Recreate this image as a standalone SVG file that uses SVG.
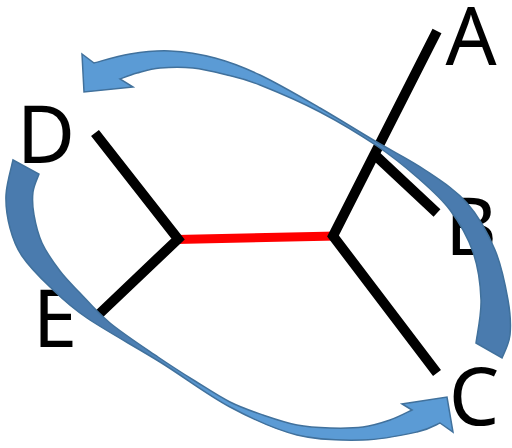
<svg xmlns="http://www.w3.org/2000/svg" width="512" height="448" viewBox="0 0 512 448">
<style>
.lbl{font-family:"Noto Sans","Liberation Sans",sans-serif;font-size:80px;fill:#000;text-anchor:middle}
.edge{fill:none;stroke:#000;stroke-width:10;stroke-linecap:butt;stroke-linejoin:miter}
.red{fill:none;stroke:#ff0000;stroke-width:9}
.arrow{stroke:#41719c;stroke-width:1.5;stroke-linejoin:miter}
</style>
<defs>
<linearGradient id="gTop" gradientUnits="userSpaceOnUse" x1="500" y1="350" x2="150" y2="60">
<stop offset="0" stop-color="#4a7bae"/>
<stop offset="0.42" stop-color="#4a7bae"/>
<stop offset="0.62" stop-color="#5b9bd5"/>
<stop offset="1" stop-color="#5b9bd5"/>
</linearGradient>
<linearGradient id="gBot" gradientUnits="userSpaceOnUse" x1="20" y1="180" x2="420" y2="430">
<stop offset="0" stop-color="#4a7bae"/>
<stop offset="0.35" stop-color="#4a7bae"/>
<stop offset="0.6" stop-color="#5b9bd5"/>
<stop offset="1" stop-color="#5b9bd5"/>
</linearGradient>
</defs>
<g id="connectors">
<line class="red" x1="176" y1="239.5" x2="337" y2="236"/>
<polyline class="edge" points="95,133 178,239 95,318"/>
<polyline class="edge" points="437,31 333,236 437,373"/>
<line class="edge" x1="375" y1="155" x2="437" y2="213"/>
</g>
<g id="node-A"><text class="lbl" x="471" y="65">A</text></g>
<g id="node-B"><text class="lbl" x="471" y="255">B</text></g>
<g id="node-C"><text class="lbl" x="474" y="425">C</text></g>
<g id="node-D"><text class="lbl" x="46" y="163">D</text></g>
<g id="node-E"><text class="lbl" x="55" y="347">E</text></g>
<g id="arrow-top">
<path class="arrow" fill="url(#gTop)" d="M94,63 C100,61.5 117.3,56 130,54 C142.7,52 155.8,50.3 170,51 C184.2,51.7 200,54 215,58 C230,62 242.5,66.7 260,75 C277.5,83.3 301,97 320,108 C339,119 357.5,130.7 375,141 C392.5,151.3 409.7,159.7 425,170 C440.3,180.3 455.3,189.7 467,203 C478.7,216.3 488.2,233.8 495,250 C501.8,266.2 505.5,285.8 508,300 C510.5,314.2 511,325.3 510,335 C509,344.7 503.3,354.2 502,358 L476,343 C476.8,335.8 481.5,315.2 481,300 C480.5,284.8 478.2,267 473,252 C467.8,237 459.2,222.3 450,210 C440.8,197.7 430.2,188.7 418,178 C405.8,167.3 393.3,157 377,146 C360.7,135 339.5,122.2 320,112 C300.5,101.8 275.5,91.2 260,85 C244.5,78.8 238.2,77.8 227,75 C215.8,72.2 204.2,69.2 193,68 C181.8,66.8 169.3,67.2 160,68 C150.7,68.8 143.7,71.2 137,73 C130.3,74.8 122.8,78 120,79 L133,87 L84,92 L82,54 Z"/>
</g>
<g id="arrow-bottom">
<path class="arrow" fill="url(#gBot)" d="M13,160 C11.8,165.8 6.5,183.7 6,195 C5.5,206.3 7.3,217.8 10,228 C12.7,238.2 15.3,246.2 22,256 C28.7,265.8 39.2,276.7 50,287 C60.8,297.3 68.7,305.5 87,318 C105.3,330.5 136.2,347.2 160,362 C183.8,376.8 207.2,394.8 230,407 C252.8,419.2 274.8,429.5 297,435 C319.2,440.5 343,440.5 363,440 C383,439.5 404.2,434.8 417,432 C429.8,429.2 436.2,424.5 440,423 L453,432 L447,397 L402,404 L412,410 C408.3,411.7 398.2,417.2 390,420 C381.8,422.8 373,425.7 363,427 C353,428.3 341,428.3 330,428 C319,427.7 308.2,427.2 297,425 C285.8,422.8 274.2,418.8 263,415 C251.8,411.2 241.3,407.7 230,402 C218.7,396.3 207,388.5 195,381 C183,373.5 172.2,366.7 158,357 C143.8,347.3 123,333.7 110,323 C97,312.3 88.3,301.7 80,293 C71.7,284.3 66.3,279.3 60,271 C53.7,262.7 46.3,252.3 42,243 C37.7,233.7 35.5,223.5 34,215 C32.5,206.5 32.2,198.8 33,192 C33.8,185.2 38,177 39,174 Z"/>
</g>
</svg>
